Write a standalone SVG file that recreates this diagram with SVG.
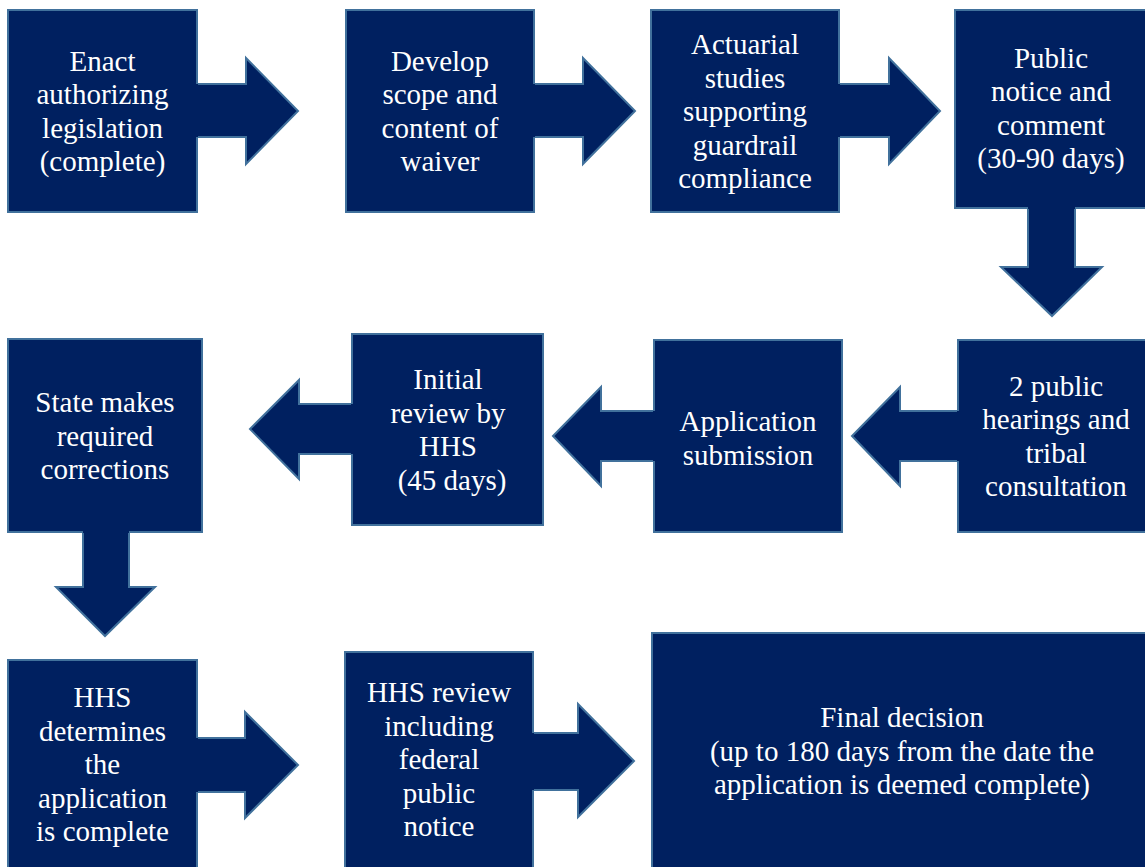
<svg xmlns="http://www.w3.org/2000/svg" width="1145" height="867" viewBox="0 0 1145 867">
<style>
.box{fill:#002060;stroke:#41719C;stroke-width:2}
.af{fill:#002060;stroke:none}
.ao{fill:none;stroke:#41719C;stroke-width:2;stroke-linejoin:miter}
.t{font-family:"Liberation Serif","Times New Roman",serif;font-size:29px;fill:#ffffff;text-anchor:middle}
</style>
<rect width="1145" height="867" fill="#ffffff"/>
<g id="n1"><rect class="box" x="8" y="10" width="189" height="202"/>
<text class="t" x="102.5" y="70.7">Enact</text><text class="t" x="102.5" y="104.2">authorizing</text><text class="t" x="102.5" y="137.7">legislation</text><text class="t" x="102.5" y="171.2">(complete)</text></g>
<g id="n2"><rect class="box" x="346" y="10" width="188" height="202"/>
<text class="t" x="440" y="70.7">Develop</text><text class="t" x="440" y="104.2">scope and</text><text class="t" x="440" y="137.7">content of</text><text class="t" x="440" y="171.2">waiver</text></g>
<g id="n3"><rect class="box" x="651" y="10" width="188" height="202"/>
<text class="t" x="745" y="54">Actuarial</text><text class="t" x="745" y="87.5">studies</text><text class="t" x="745" y="121">supporting</text><text class="t" x="745" y="154.5">guardrail</text><text class="t" x="745" y="188">compliance</text></g>
<g id="n4"><rect class="box" x="955" y="10" width="192" height="198"/>
<text class="t" x="1051" y="67.5">Public</text><text class="t" x="1051" y="101">notice and</text><text class="t" x="1051" y="134.5">comment</text><text class="t" x="1051" y="168">(30-90 days)</text></g>
<g id="n5"><rect class="box" x="958" y="340" width="189" height="192"/>
<text class="t" x="1056" y="395.5">2 public</text><text class="t" x="1056" y="429">hearings and</text><text class="t" x="1056" y="462.5">tribal</text><text class="t" x="1056" y="496">consultation</text></g>
<g id="n6"><rect class="box" x="654" y="340" width="188" height="192"/>
<text class="t" x="748" y="431">Application</text><text class="t" x="748" y="464.5">submission</text></g>
<g id="n7"><rect class="box" x="352" y="334" width="191" height="191"/>
<text class="t" x="448" y="389">Initial</text><text class="t" x="448" y="422.5">review by</text><text class="t" x="448" y="456">HHS</text><text class="t" x="452" y="489.5">(45 days)</text></g>
<g id="n8"><rect class="box" x="8" y="339" width="194" height="193"/>
<text class="t" x="105" y="412">State makes</text><text class="t" x="105" y="445.5">required</text><text class="t" x="105" y="479">corrections</text></g>
<g id="n9"><rect class="box" x="8" y="660" width="189" height="210"/>
<text class="t" x="102.5" y="707">HHS</text><text class="t" x="102.5" y="740.5">determines</text><text class="t" x="102.5" y="774">the</text><text class="t" x="102.5" y="807.5">application</text><text class="t" x="102.5" y="841">is complete</text></g>
<g id="n10"><rect class="box" x="345" y="652" width="188" height="218"/>
<text class="t" x="439" y="702">HHS review</text><text class="t" x="439" y="735.5">including</text><text class="t" x="439" y="769">federal</text><text class="t" x="439" y="802.5">public</text><text class="t" x="439" y="836">notice</text></g>
<g id="n11"><rect class="box" x="652" y="633" width="495" height="237"/>
<text class="t" x="902" y="727">Final decision</text><text class="t" x="902" y="760.5">(up to 180 days from the date the</text><text class="t" x="902" y="794">application is deemed complete)</text></g>
<g id="connectors">
<path class="af" d="M195,84 H246 V58 L298,111 L246,164 V137 H195 Z"/>
<path class="ao" d="M198,84 H246 V58 L298,111 L246,164 V137 H198"/>
<path class="af" d="M532,84 H583 V58 L635,111 L583,164 V137 H532 Z"/>
<path class="ao" d="M535,84 H583 V58 L635,111 L583,164 V137 H535"/>
<path class="af" d="M837,84 H889 V58 L940,111 L889,164 V137 H837 Z"/>
<path class="ao" d="M840,84 H889 V58 L940,111 L889,164 V137 H840"/>
<path class="af" d="M1028,206 V267 H1001 L1052,316 L1102,267 H1075 V206 Z"/>
<path class="ao" d="M1028,209 V267 H1001 L1052,316 L1102,267 H1075 V209"/>
<path class="af" d="M960,411 H900 V387 L852,436 L900,486 V461 H960 Z"/>
<path class="ao" d="M957,411 H900 V387 L852,436 L900,486 V461 H957"/>
<path class="af" d="M656,411 H601 V387 L553,436 L601,486 V461 H656 Z"/>
<path class="ao" d="M653,411 H601 V387 L553,436 L601,486 V461 H653"/>
<path class="af" d="M354,404 H299 V380 L250,429 L299,479 V454 H354 Z"/>
<path class="ao" d="M351,404 H299 V380 L250,429 L299,479 V454 H351"/>
<path class="af" d="M83,530 V587 H56 L105,636 L155,587 H129 V530 Z"/>
<path class="ao" d="M83,533 V587 H56 L105,636 L155,587 H129 V533"/>
<path class="af" d="M195,738 H245 V712 L298,765 L245,818 V792 H195 Z"/>
<path class="ao" d="M198,738 H245 V712 L298,765 L245,818 V792 H198"/>
<path class="af" d="M531,733 H578 V704 L634,761 L578,817 V790 H531 Z"/>
<path class="ao" d="M534,733 H578 V704 L634,761 L578,817 V790 H534"/>
</g>
</svg>
